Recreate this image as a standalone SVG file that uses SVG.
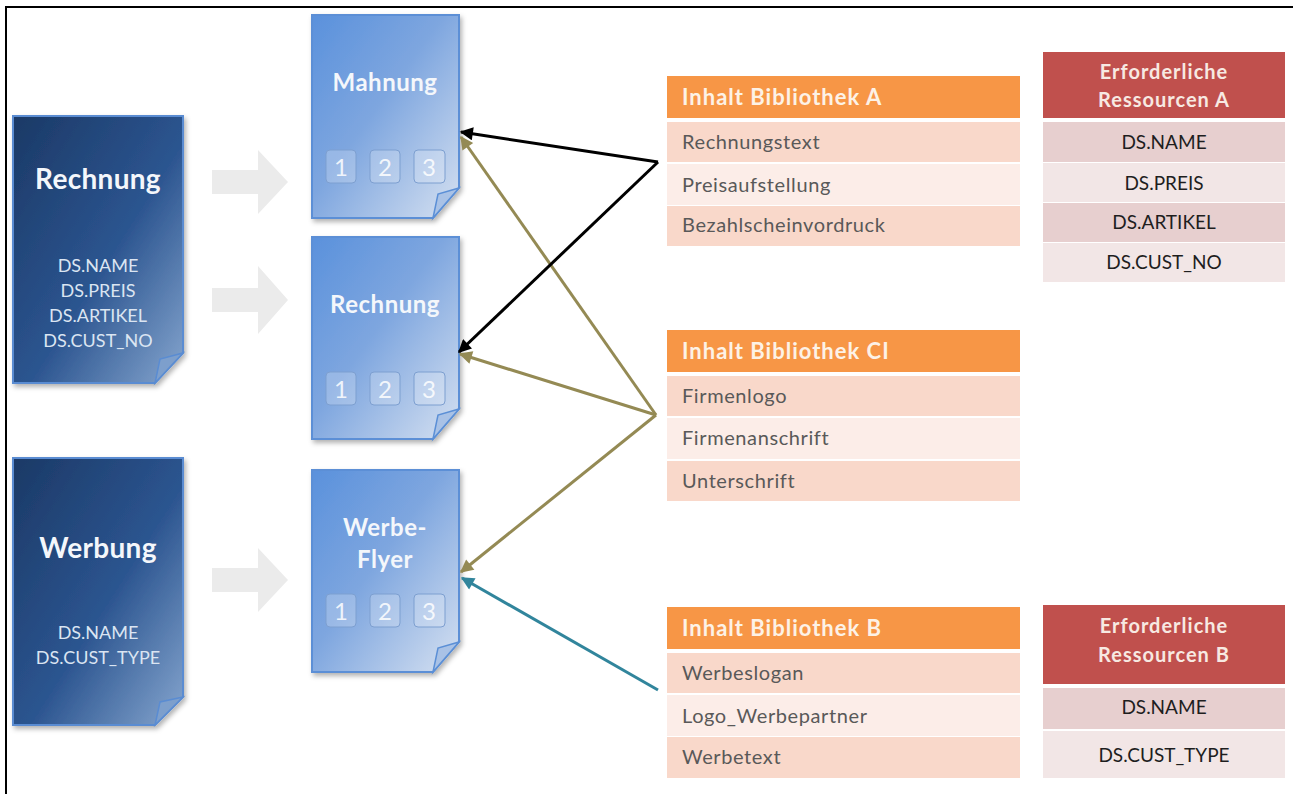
<svg xmlns="http://www.w3.org/2000/svg" width="1293" height="794" viewBox="0 0 1293 794">
<defs>
<linearGradient id="gLeft" x1="0" y1="0" x2="1" y2="1">
<stop offset="0" stop-color="#1b3966"/>
<stop offset="0.55" stop-color="#2c5590"/>
<stop offset="1" stop-color="#86a6cf"/>
</linearGradient>
<linearGradient id="gMid" x1="0" y1="0" x2="1" y2="1">
<stop offset="0" stop-color="#5a91dc"/>
<stop offset="0.45" stop-color="#7ea6df"/>
<stop offset="1" stop-color="#d6e1f1"/>
</linearGradient>
<filter id="sh" x="-10%" y="-10%" width="125%" height="125%">
<feDropShadow dx="2" dy="3" stdDeviation="2.5" flood-color="#000" flood-opacity="0.3"/>
</filter>
<marker id="aBlack" viewBox="0 0 10 10" refX="9" refY="5" markerWidth="5" markerHeight="4.4" orient="auto" markerUnits="strokeWidth">
<path d="M0,0 L10,5 L0,10 Z" fill="#000"/>
</marker>
<marker id="aOlive" viewBox="0 0 10 10" refX="9" refY="5" markerWidth="5" markerHeight="4.4" orient="auto" markerUnits="strokeWidth">
<path d="M0,0 L10,5 L0,10 Z" fill="#948a54"/>
</marker>
<marker id="aTeal" viewBox="0 0 10 10" refX="9" refY="5" markerWidth="5" markerHeight="4.4" orient="auto" markerUnits="strokeWidth">
<path d="M0,0 L10,5 L0,10 Z" fill="#31859c"/>
</marker>
</defs>
<style>
text{font-family:Lato,"Open Sans","Liberation Sans",sans-serif}
.docL{fill:url(#gLeft);stroke:#5a8cd2;stroke-width:2;filter:url(#sh)}
.docM{fill:url(#gMid);stroke:#5b8fd6;stroke-width:2;filter:url(#sh)}
.fold{fill:#a9c2e6;stroke:#5b8fd6;stroke-width:1.5}
.foldL{fill:#7d9fcc;stroke:#5a8cd2;stroke-width:1.5}
.tL{font-size:28px;font-weight:bold;fill:#f4f7fb;text-anchor:middle;letter-spacing:0.3px}
.tM{font-size:24px;font-weight:bold;fill:#f4f7fb;text-anchor:middle;letter-spacing:0.5px}
.ds{font-size:18px;fill:#dbe5f2;text-anchor:middle}
.box{fill:#ffffff;fill-opacity:0.22;stroke:#7d9fd0;stroke-width:1}
.num{font-size:24px;fill:#ffffff;fill-opacity:0.85;text-anchor:middle}
.garrow{fill:#ebebeb}
.hO{fill:#f79646}
.hOt{font-size:22px;font-weight:bold;fill:#fdf2e6;letter-spacing:1px}
.r1{fill:#f9d8ca}
.r2{fill:#fcede8}
.rt{font-size:20px;fill:#595959;letter-spacing:0.6px}
.hR{fill:#c0504d}
.hRt{font-size:20px;font-weight:bold;fill:#f7e9e2;text-anchor:middle;letter-spacing:1px}
.q1{fill:#e7cfcf}
.q2{fill:#f2e6e6}
.qt{font-size:19px;fill:#1e1e1e;text-anchor:middle}
.cB{stroke:#000;stroke-width:3;fill:none;marker-end:url(#aBlack)}
.cO{stroke:#948a54;stroke-width:3;fill:none;marker-end:url(#aOlive)}
.cT{stroke:#31859c;stroke-width:3;fill:none;marker-end:url(#aTeal)}
</style>
<rect x="0" y="0" width="1293" height="794" fill="#fff"/>
<path d="M6,794 V7 H1293" fill="none" stroke="#000" stroke-width="2"/>

<g id="gray-arrows">
<polygon class="garrow" points="212,170 258,170 258,150 288,182 258,214 258,194 212,194"/>
<polygon class="garrow" points="212,288 258,288 258,266 288,300 258,334 258,312 212,312"/>
<polygon class="garrow" points="212,568 258,568 258,548 288,580 258,612 258,592 212,592"/>
</g>

<g id="src-rechnung">
<path class="docL" d="M13,116 H183 V353 L155,383 H13 Z"/>
<path class="foldL" d="M155,383 L160,359 L183,353 Z"/>
<text class="tL" x="98" y="189">Rechnung</text>
<text class="ds" x="98" y="272">DS.NAME</text>
<text class="ds" x="98" y="297">DS.PREIS</text>
<text class="ds" x="98" y="322">DS.ARTIKEL</text>
<text class="ds" x="98" y="347">DS.CUST_NO</text>
</g>

<g id="src-werbung">
<path class="docL" d="M13,458 H183 V697 L155,725 H13 Z"/>
<path class="foldL" d="M155,725 L160,702 L183,697 Z"/>
<text class="tL" x="98" y="558">Werbung</text>
<text class="ds" x="98" y="639">DS.NAME</text>
<text class="ds" x="98" y="664">DS.CUST_TYPE</text>
</g>

<g id="doc-mahnung">
<path class="docM" d="M312,15 H459 V188 L433,218 H312 Z"/>
<path class="fold" d="M433,218 L438,194 L459,188 Z"/>
<text class="tM" x="385" y="91">Mahnung</text>
<rect class="box" x="326" y="150" width="30" height="33" rx="4"/>
<rect class="box" x="370" y="150" width="30" height="33" rx="4"/>
<rect class="box" x="414" y="150" width="31" height="33" rx="4"/>
<text class="num" x="341" y="176">1</text>
<text class="num" x="385" y="176">2</text>
<text class="num" x="429" y="176">3</text>
</g>

<g id="doc-rechnung">
<path class="docM" d="M312,237 H459 V409 L433,439 H312 Z"/>
<path class="fold" d="M433,439 L438,415 L459,409 Z"/>
<text class="tM" x="385" y="313">Rechnung</text>
<rect class="box" x="326" y="372" width="30" height="33" rx="4"/>
<rect class="box" x="370" y="372" width="30" height="33" rx="4"/>
<rect class="box" x="414" y="372" width="31" height="33" rx="4"/>
<text class="num" x="341" y="398">1</text>
<text class="num" x="385" y="398">2</text>
<text class="num" x="429" y="398">3</text>
</g>

<g id="doc-flyer">
<path class="docM" d="M312,470 H459 V642 L433,672 H312 Z"/>
<path class="fold" d="M433,672 L438,648 L459,642 Z"/>
<text class="tM" x="385" y="536">Werbe-</text>
<text class="tM" x="385" y="568">Flyer</text>
<rect class="box" x="326" y="594" width="30" height="33" rx="4"/>
<rect class="box" x="370" y="594" width="30" height="33" rx="4"/>
<rect class="box" x="414" y="594" width="31" height="33" rx="4"/>
<text class="num" x="341" y="620">1</text>
<text class="num" x="385" y="620">2</text>
<text class="num" x="429" y="620">3</text>
</g>

<g id="lib-a">
<rect class="hO" x="667" y="76" width="353" height="42"/>
<text class="hOt" x="682" y="105">Inhalt Bibliothek A</text>
<rect class="r1" x="667" y="122" width="353" height="40"/>
<rect class="r2" x="667" y="164" width="353" height="41"/>
<rect class="r1" x="667" y="206" width="353" height="40"/>
<text class="rt" x="682" y="149">Rechnungstext</text>
<text class="rt" x="682" y="192">Preisaufstellung</text>
<text class="rt" x="682" y="232">Bezahlscheinvordruck</text>
</g>

<g id="lib-ci">
<rect class="hO" x="667" y="330" width="353" height="42"/>
<text class="hOt" x="682" y="359">Inhalt Bibliothek CI</text>
<rect class="r1" x="667" y="376" width="353" height="40"/>
<rect class="r2" x="667" y="418" width="353" height="41"/>
<rect class="r1" x="667" y="461" width="353" height="40"/>
<text class="rt" x="682" y="403">Firmenlogo</text>
<text class="rt" x="682" y="445">Firmenanschrift</text>
<text class="rt" x="682" y="488">Unterschrift</text>
</g>

<g id="lib-b">
<rect class="hO" x="667" y="607" width="353" height="42"/>
<text class="hOt" x="682" y="636">Inhalt Bibliothek B</text>
<rect class="r1" x="667" y="653" width="353" height="40"/>
<rect class="r2" x="667" y="695" width="353" height="41"/>
<rect class="r1" x="667" y="737" width="353" height="41"/>
<text class="rt" x="682" y="680">Werbeslogan</text>
<text class="rt" x="682" y="723">Logo_Werbepartner</text>
<text class="rt" x="682" y="764">Werbetext</text>
</g>

<g id="res-a">
<rect class="hR" x="1043" y="52" width="242" height="66"/>
<text class="hRt" x="1164" y="79">Erforderliche</text>
<text class="hRt" x="1164" y="107">Ressourcen A</text>
<rect class="q1" x="1043" y="122" width="242" height="40"/>
<rect class="q2" x="1043" y="163" width="242" height="39"/>
<rect class="q1" x="1043" y="203" width="242" height="39"/>
<rect class="q2" x="1043" y="243" width="242" height="39"/>
<text class="qt" x="1164" y="149">DS.NAME</text>
<text class="qt" x="1164" y="190">DS.PREIS</text>
<text class="qt" x="1164" y="229">DS.ARTIKEL</text>
<text class="qt" x="1164" y="269">DS.CUST_NO</text>
</g>

<g id="res-b">
<rect class="hR" x="1043" y="605" width="242" height="79"/>
<text class="hRt" x="1164" y="633">Erforderliche</text>
<text class="hRt" x="1164" y="662">Ressourcen B</text>
<rect class="q1" x="1043" y="688" width="242" height="41"/>
<rect class="q2" x="1043" y="731" width="242" height="47"/>
<text class="qt" x="1164" y="714">DS.NAME</text>
<text class="qt" x="1164" y="762">DS.CUST_TYPE</text>
</g>

<g id="connectors">
<path class="cO" d="M656,415 L461,137"/>
<path class="cO" d="M656,415 L460,354"/>
<path class="cO" d="M656,415 L461,572"/>
<path class="cB" d="M658,162 L461,132"/>
<path class="cB" d="M658,162 L459,352"/>
<path class="cT" d="M658,690 L462,578"/>
</g>
</svg>
